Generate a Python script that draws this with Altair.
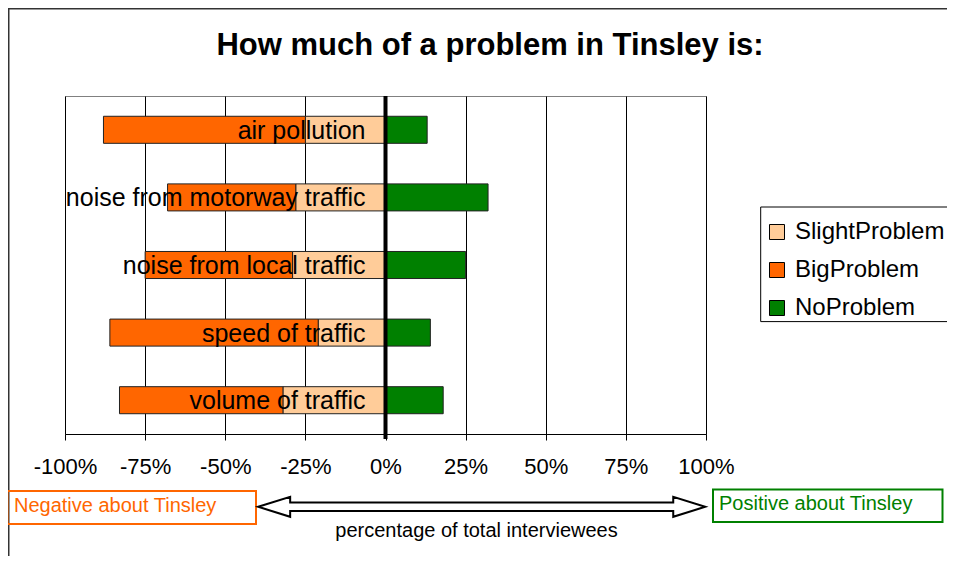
import altair as alt
import pandas as pd

categories = ["air pollution", "noise from motorway traffic", "noise from local traffic",
              "speed of traffic", "volume of traffic"]
slight_problem = [25, 28, 29, 21, 32]
big_problem = [63, 40, 46, 65, 51]
no_problem = [13, 32, 25, 14, 18]

series_names = ["SlightProblem", "BigProblem", "NoProblem"]
series_colors = ["#FFCC99", "#FF6600", "#008000"]
tick_values = [-1, -0.75, -0.5, -0.25, 0, 0.25, 0.5, 0.75, 1]

rows = []
for c, s, b, n in zip(categories, slight_problem, big_problem, no_problem):
    rows.append({"cat": c, "series": "SlightProblem", "x0": 0, "x1": -s / 100})
    rows.append({"cat": c, "series": "BigProblem", "x0": -s / 100, "x1": -(s + b) / 100})
    rows.append({"cat": c, "series": "NoProblem", "x0": 0, "x1": n / 100})
bars_df = pd.DataFrame(rows)
labels_df = pd.DataFrame({"cat": categories, "zero": [0] * len(categories)})

FONT = "Liberation Sans"

xscale = alt.Scale(domain=[-1, 1], nice=False, zero=False)
yscale = alt.Scale(domain=categories, paddingInner=0.6, paddingOuter=0.3)

one = pd.DataFrame({"k": [0]})

frame = alt.Chart(one).mark_rect(
    fillOpacity=0, stroke="#333333", strokeWidth=3
).encode(x=alt.value(-57), y=alt.value(-88), x2=alt.value(3000), y2=alt.value(3000))

legend_box = alt.Chart(one).mark_rect(
    fill="white", stroke="black", strokeWidth=1
).encode(x=alt.value(695.7), x2=alt.value(1000), y=alt.value(111), y2=alt.value(225.6))

bars = alt.Chart(bars_df).mark_bar(stroke="#222222", strokeWidth=1).encode(
    x=alt.X("x1:Q", scale=xscale,
            axis=alt.Axis(values=tick_values, labelOverlap=False, labelFlush=False,
                          labelExpr="(datum.value < 0 ? '-' : '') + format(abs(datum.value) * 100, 'd') + '%'",
                          title="percentage of total interviewees",
                          titleFont=FONT, titleFontSize=20, titleFontWeight="normal",
                          titleColor="black", titleX=411, titleY=102,
                          titleAlign="center", titleBaseline="alphabetic")),
    x2="x0:Q",
    y=alt.Y("cat:N", scale=yscale, axis=None),
    color=alt.Color("series:N",
                    scale=alt.Scale(domain=series_names, range=series_colors),
                    legend=alt.Legend(title=None, orient="none", legendX=700, legendY=124,
                                      direction="vertical", padding=0,
                                      symbolType="square", symbolSize=225,
                                      symbolStrokeColor="black", symbolStrokeWidth=1,
                                      labelFont=FONT, labelFontSize=24, labelColor="black",
                                      labelOffset=6, rowPadding=14, labelLimit=400)),
)

zero_line = alt.Chart(one).mark_rule(color="black", strokeWidth=4).encode(
    x=alt.datum(0, scale=xscale), y=alt.value(0), y2=alt.value(343)
)

cat_labels = alt.Chart(labels_df).mark_text(
    align="right", baseline="middle", dx=-20, dy=1, font=FONT, fontSize=25, color="black"
).encode(
    x=alt.X("zero:Q", scale=xscale),
    y=alt.Y("cat:N", scale=yscale),
    text="cat:N",
)

title = alt.Chart(one).mark_text(
    text="How much of a problem in Tinsley is:", font=FONT, fontSize=31, fontWeight="bold",
    align="center", baseline="alphabetic", color="black"
).encode(x=alt.value(425), y=alt.value(-41))

neg_box = alt.Chart(one).mark_rect(fillOpacity=0, stroke="#FF6600", strokeWidth=2).encode(
    x=alt.value(-57.5), x2=alt.value(191), y=alt.value(395), y2=alt.value(428))
neg_text = alt.Chart(one).mark_text(
    text="Negative about Tinsley", font=FONT, fontSize=20, color="#FF6600",
    align="left", baseline="alphabetic").encode(x=alt.value(-51), y=alt.value(416))

pos_box = alt.Chart(one).mark_rect(fillOpacity=0, stroke="#008000", strokeWidth=2).encode(
    x=alt.value(648), x2=alt.value(877.5), y=alt.value(393.5), y2=alt.value(426))
pos_text = alt.Chart(one).mark_text(
    text="Positive about Tinsley", font=FONT, fontSize=20, color="#008000",
    align="left", baseline="alphabetic").encode(x=alt.value(654), y=alt.value(414))

arrow_path = ("M -1 0 L -0.857 -0.0447 L -0.857 -0.019 L 0.857 -0.019 L 0.857 -0.0447 "
              "L 1 0 L 0.857 0.0447 L 0.857 0.019 L -0.857 0.019 L -0.857 0.0447 Z")
arrow = alt.Chart(one).mark_point(
    shape=arrow_path, filled=True, fill="white", stroke="black", strokeWidth=2, opacity=1,
    fillOpacity=1, strokeOpacity=1
).encode(x=alt.value(416.7), y=alt.value(410.8), size=alt.value(447 * 447))

chart = alt.layer(
    frame, legend_box, bars, zero_line, cat_labels, title, neg_box, neg_text, pos_box, pos_text, arrow
).properties(
    width=641, height=338,
    autosize=alt.AutoSizeParams(type="none"),
    padding={"left": 57, "top": 88, "right": 241, "bottom": 122},
    background="white",
).configure_view(
    stroke="#808080", strokeWidth=1
).configure_axis(
    grid=True, gridColor="black", gridWidth=1,
    domainColor="black", domainWidth=1,
    tickColor="black", tickSize=6, tickWidth=1,
    labelFont=FONT, labelFontSize=22, labelColor="black", labelPadding=16,
)

chart.save("out.html", embed_options={"renderer": "svg", "actions": False})
